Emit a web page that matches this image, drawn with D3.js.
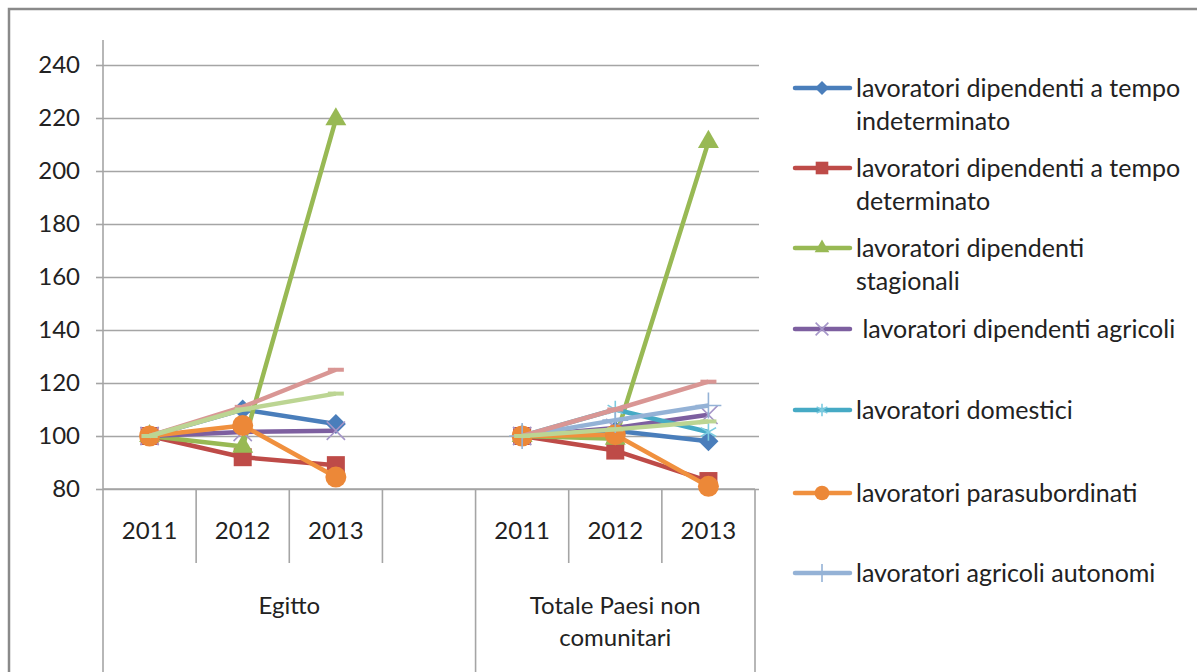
<!DOCTYPE html>
<html>
<head>
<meta charset="utf-8">
<script src="https://cdn.jsdelivr.net/npm/d3@7"></script>
<style>
  body { margin: 0; background: #fff; }
  svg { font-family: Lato, "Noto Sans", sans-serif; }
</style>
</head>
<body>
<svg id="chart" width="1197" height="672"></svg>
<script>
// slots on the category axis: 3 years, an empty slot, 3 years
var slots = ["E2011", "E2012", "E2013", "Eblank", "T2011", "T2012", "T2013"];
var slotLabels = ["2011", "2012", "2013", "", "2011", "2012", "2013"];
var groups = [
  { name: ["Egitto"], from: 0, to: 4 },
  { name: ["Totale Paesi non", "comunitari"], from: 4, to: 7 }
];
var yTicks = [80, 100, 120, 140, 160, 180, 200, 220, 240];

// values per slot (null = no point)
var indeterminato = [100, 110, 104.5, null, 100, 102, 98];
var determinato   = [100, 92, 89, null, 100, 94.5, 83];
var stagionali    = [100, 96, 219.5, null, 100, 99, 211];
var agricoli      = [100, 101.5, 102, null, 100, 103, 108];
var domestici     = [null, null, null, null, 100, 110, 101.5];
var parasub       = [100, 104, 84.5, null, 100, 100.5, 81];
var agrAutonomi   = [null, null, null, null, 100, 106, 111.5];
var serie8        = [100, 111, 125, null, 100, 110, 120.5];
var serie9        = [100, 110, 116, null, 100, 102.5, 105.5];

var series = [
  { name: ["lavoratori dipendenti a tempo", "indeterminato"], values: indeterminato, color: "#4a7ebb", mark: "diamond", mcolor: "#4a7ebb", legend: true },
  { name: ["lavoratori dipendenti a tempo", "determinato"], values: determinato, color: "#be4b48", mark: "square", mcolor: "#be4b48", legend: true },
  { name: ["lavoratori dipendenti", "stagionali"], values: stagionali, color: "#98b954", mark: "triangle", mcolor: "#98b954", legend: true },
  { name: [" lavoratori dipendenti agricoli"], values: agricoli, color: "#7d5fa0", mark: "times", mcolor: "#a596c8", legend: true },
  { name: ["lavoratori domestici"], values: domestici, color: "#46aac5", mark: "asterisk", mcolor: "#7ccbe0", legend: true },
  { name: ["lavoratori parasubordinati"], values: parasub, color: "#f0903e", mark: "circle", mcolor: "#ec8838", legend: true },
  { name: ["lavoratori agricoli autonomi"], values: agrAutonomi, color: "#94b2d6", mark: "plus", mcolor: "#94b2d6", legend: true },
  { name: ["serie 8"], values: serie8, color: "#d99694", mark: "dash", mcolor: "#d99694", legend: false },
  { name: ["serie 9"], values: serie9, color: "#bcd593", mark: "dash", mcolor: "#bcd593", legend: false }
];

var svg = d3.select("#chart");
var plotLeft = 103, plotRight = 755, plotTop = 65, plotBottom = 489;
var textColor = "#222";
var axisFont = 24, legendFont = 25;

// chart frame
svg.append("path")
  .attr("d", "M9,700 L9,9 L1197,9")
  .attr("fill", "none").attr("stroke", "#8a8a8a").attr("stroke-width", 2.5);

var x = d3.scaleBand().domain(slots).range([plotLeft, plotRight]);
var y = d3.scaleLinear().domain([80, 240]).range([plotBottom, plotTop]);
var cx = function(i) { return x(slots[i]) + x.bandwidth() / 2; };

// gridlines
var grid = svg.append("g").attr("transform", "translate(" + plotLeft + ",0)")
  .call(d3.axisLeft(y).tickValues(yTicks).tickSize(-(plotRight - plotLeft + 4)).tickFormat(""));
grid.select(".domain").remove();
grid.selectAll("line").attr("stroke", "#a5a5a5").attr("stroke-width", 1.6);

// y axis
var yAxis = svg.append("g").attr("transform", "translate(" + plotLeft + ",0)")
  .call(d3.axisLeft(y).tickValues(yTicks).tickSize(7).tickPadding(16));
yAxis.select(".domain").attr("d", "M0,40V" + plotBottom).attr("stroke", "#a5a5a5").attr("stroke-width", 1.6);
yAxis.selectAll("line").attr("stroke", "#a5a5a5").attr("stroke-width", 1.6);
yAxis.selectAll("text").attr("font-size", axisFont).attr("fill", textColor).attr("font-family", "Lato");

// x axis: line + dividers
var xg = svg.append("g");
xg.append("line").attr("x1", plotLeft).attr("x2", plotRight).attr("y1", plotBottom).attr("y2", plotBottom)
  .attr("stroke", "#a5a5a5").attr("stroke-width", 1.6);
var groupEdges = [0, 4, 7];
d3.range(slots.length + 1).forEach(function(i) {
  var xx = i < slots.length ? x(slots[i]) : plotRight;
  var full = groupEdges.indexOf(i) >= 0;
  xg.append("line").attr("x1", xx).attr("x2", xx)
    .attr("y1", plotBottom).attr("y2", full ? 672 : 563)
    .attr("stroke", "#a5a5a5").attr("stroke-width", 1.6);
});
xg.selectAll("text.yr").data(slotLabels).enter().append("text")
  .attr("class", "yr")
  .attr("x", function(d, i) { return cx(i); })
  .attr("y", 539)
  .attr("text-anchor", "middle").attr("font-size", axisFont).attr("fill", textColor)
  .text(function(d) { return d; });
groups.forEach(function(g) {
  var gx = (x(slots[g.from]) + (g.to < slots.length ? x(slots[g.to]) : plotRight)) / 2;
  g.name.forEach(function(t, k) {
    xg.append("text").attr("x", gx).attr("y", 614 + k * 32)
      .attr("text-anchor", "middle").attr("font-size", axisFont).attr("fill", textColor)
      .text(t);
  });
});

// marker drawing
function drawMarker(sel, s, size) {
  var k = size / 20;
  if (s.mark === "circle") {
    sel.append("circle").attr("r", 10.5 * k).attr("fill", s.mcolor);
  } else if (s.mark === "square") {
    sel.append("rect").attr("x", -9 * k).attr("y", -9 * k).attr("width", 18 * k).attr("height", 18 * k).attr("fill", s.mcolor);
  } else if (s.mark === "diamond") {
    sel.append("path").attr("d", d3.symbol(d3.symbolSquare, 200 * k * k)()).attr("transform", "rotate(45)").attr("fill", s.mcolor);
  } else if (s.mark === "triangle") {
    sel.append("path").attr("d", d3.symbol(d3.symbolTriangle, 190 * k * k)()).attr("fill", s.mcolor);
  } else if (s.mark === "times") {
    sel.append("path").attr("d", d3.symbol(d3.symbolTimes, 220 * k * k)()).attr("fill", "none").attr("stroke", s.mcolor).attr("stroke-width", 1.6);
  } else if (s.mark === "asterisk") {
    sel.append("path").attr("d", d3.symbol(d3.symbolAsterisk, 220 * k * k)()).attr("fill", "none").attr("stroke", s.mcolor).attr("stroke-width", 1.6);
  } else if (s.mark === "plus") {
    sel.append("path").attr("d", d3.symbol(d3.symbolPlus, 220 * k * k)()).attr("fill", "none").attr("stroke", s.mcolor).attr("stroke-width", 1.6);
  } else if (s.mark === "dash") {
    sel.append("rect").attr("x", -8 * k).attr("y", -2 * k).attr("width", 16 * k).attr("height", 4 * k).attr("fill", s.mcolor);
  }
}

// lines and markers
var line = d3.line()
  .defined(function(d) { return d.v !== null; })
  .x(function(d) { return cx(d.i); })
  .y(function(d) { return y(d.v); });

var plot = svg.append("g");
series.forEach(function(s) {
  var pts = s.values.map(function(v, i) { return { v: v, i: i }; });
  plot.append("path").datum(pts).attr("d", line)
    .attr("fill", "none").attr("stroke", s.color).attr("stroke-width", 4.5)
    .attr("stroke-linejoin", "round");
  pts.filter(function(d) { return d.v !== null; }).forEach(function(d) {
    var m = plot.append("g").attr("transform", "translate(" + cx(d.i) + "," + y(d.v) + ")");
    drawMarker(m, s, 20);
  });
});

// legend
var legendY = [88, 168, 248, 329, 410, 493, 573];
var leg = svg.append("g");
series.filter(function(s) { return s.legend; }).forEach(function(s, i) {
  var g = leg.append("g").attr("transform", "translate(0," + legendY[i] + ")");
  g.append("line").attr("x1", 795).attr("x2", 850).attr("y1", 0).attr("y2", 0)
    .attr("stroke", s.color).attr("stroke-width", 4.5).attr("stroke-linecap", "round");
  var m = g.append("g").attr("transform", "translate(822,0)");
  drawMarker(m, s, 14);
  s.name.forEach(function(t, k) {
    g.append("text").attr("x", 856).attr("y", k * 33).attr("dy", "0.35em")
      .attr("font-size", legendFont).attr("fill", textColor)
      .style("white-space", "pre")
      .text(t);
  });
});
</script>
</body>
</html>
